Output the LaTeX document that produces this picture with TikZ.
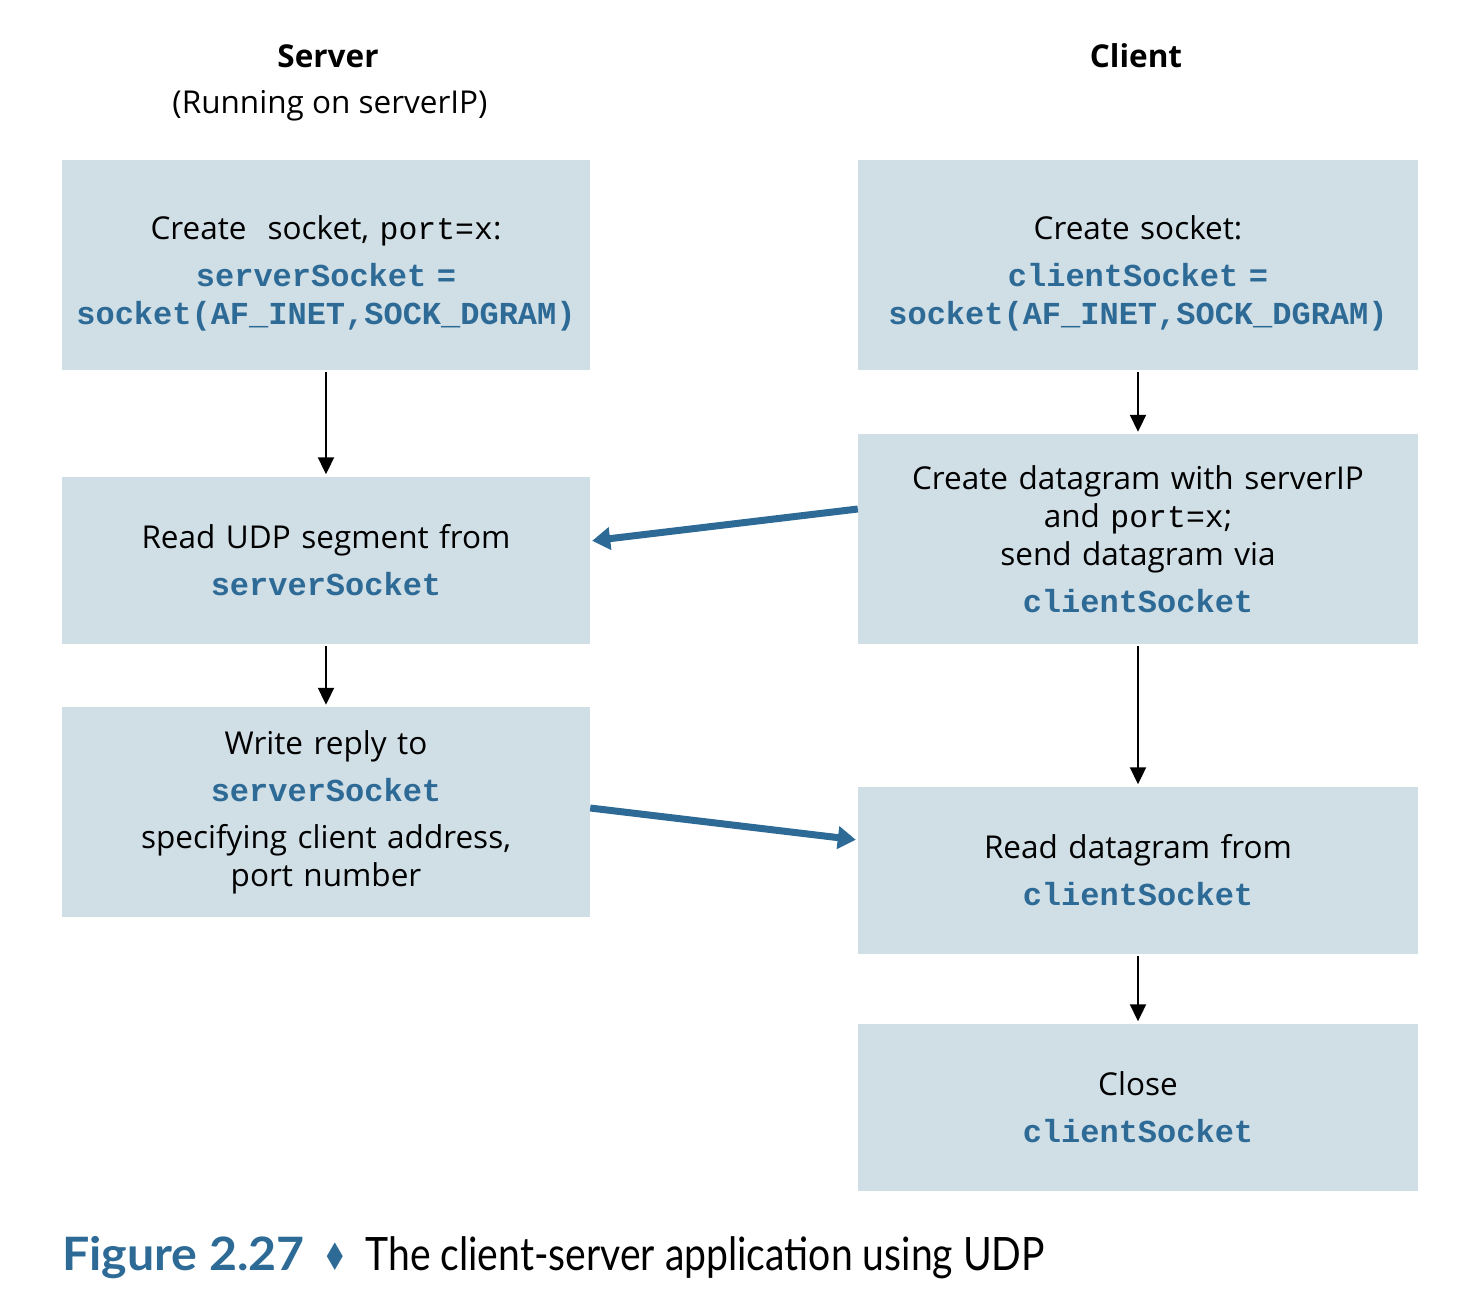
\documentclass[tikz,border=0pt]{standalone}
\usepackage{fontspec}
\setmainfont{Open Sans}
\setmonofont{Liberation Mono}
\newfontfamily\capfont{Lato}
\newfontfamily\symfont{DejaVu Sans}
\usetikzlibrary{arrows.meta}

\definecolor{boxfill}{RGB}{208,222,230}
\definecolor{codeblue}{RGB}{45,106,150}

\newcommand{\sockname}[1]{{\fontsize{32}{38}\selectfont\ttfamily\bfseries\color{codeblue}#1}}
\newcommand{\mono}[1]{{\ttfamily #1}}

\begin{document}
\begin{tikzpicture}[x=1pt,y=-1pt]
    \tikzstyle{stepbox}=[rectangle,fill=boxfill,inner sep=0pt,align=center,font=\fontsize{31.5}{38}\selectfont]
    \tikzstyle{srvbox}=[stepbox,minimum width=528pt,text width=524pt]
    \tikzstyle{clibox}=[stepbox,minimum width=560pt,text width=556pt]
    \tikzstyle{head}=[anchor=base,inner sep=0pt,font=\fontsize{31.5}{38}\selectfont]
    \tikzstyle{flow}=[line width=2pt,-{Triangle[length=17pt,width=16pt]},shorten <=2pt,shorten >=2pt]
    \tikzstyle{msg}=[draw=codeblue,line width=7pt,-{Triangle[length=18pt,width=22pt]},shorten >=2pt]

    \useasboundingbox (0,0) rectangle (1465,1292);

    \node (srvhead)[head] at (328,68) {\textbf{Server}};
    \node (srvip)[head] at (330,114) {(Running on serverIP)};
    \node (clihead)[head] at (1136,68) {\textbf{Client}};

    % server side
    \node (s1)[srvbox,minimum height=210pt] at (326,265) {\rule{0pt}{40pt}Create\ \ socket, \mono{port=x}:\\[9pt]
        \sockname{serverSocket~=}\\\sockname{socket(AF\_INET,SOCK\_DGRAM)}};
    \node (s2)[srvbox,minimum height=167pt] at (326,560) {Read UDP segment from\\[9pt]
        \sockname{serverSocket}};
    \node (s3)[srvbox,minimum height=210pt] at (326,812) {Write reply to\\[9pt]
        \sockname{serverSocket}\\[9pt]specifying client address,\\port number};

    % client side
    \node (c1)[clibox,minimum height=210pt] at (1138,265) {\rule{0pt}{40pt}Create socket:\\[9pt]
        \sockname{clientSocket~=}\\\sockname{socket(AF\_INET,SOCK\_DGRAM)}};
    \node (c2)[clibox,minimum height=210pt] at (1138,539) {Create datagram with serverIP\\
        and \mono{port=x};\\send datagram via\\[9pt]\sockname{clientSocket}};
    \node (c3)[clibox,minimum height=167pt] at (1138,870) {Read datagram from\\[9pt]
        \sockname{clientSocket}};
    \node (c4)[clibox,minimum height=167pt] at (1138,1107) {Close\\[9pt]
        \sockname{clientSocket}};

    \draw[flow] (s1) -- (s2);
    \draw[flow] (s2) -- (s3);
    \draw[flow] (c1) -- (c2);
    \draw[flow] (c2) -- (c3);
    \draw[flow] (c3) -- (c4);

    \draw[msg] ([yshift=30pt]c2.west) -- ([yshift=19pt]s2.east);
    \draw[msg] ([yshift=4pt]s3.east) -- ([yshift=30pt]c3.west);

    \node (caption)[anchor=base west,inner sep=0pt] at (62,1270) {\fontsize{46}{50}\selectfont
        \scalebox{1.05}[1]{\capfont\bfseries\color{codeblue}Figure 2.27}\hspace{18pt}%
        {\symfont\fontsize{38}{40}\selectfont\color{codeblue}\scalebox{0.75}[1]{♦}}\hspace{17pt}%
        \scalebox{0.85}[1]{\capfont The client-server application using UDP}};
\end{tikzpicture}
\end{document}
